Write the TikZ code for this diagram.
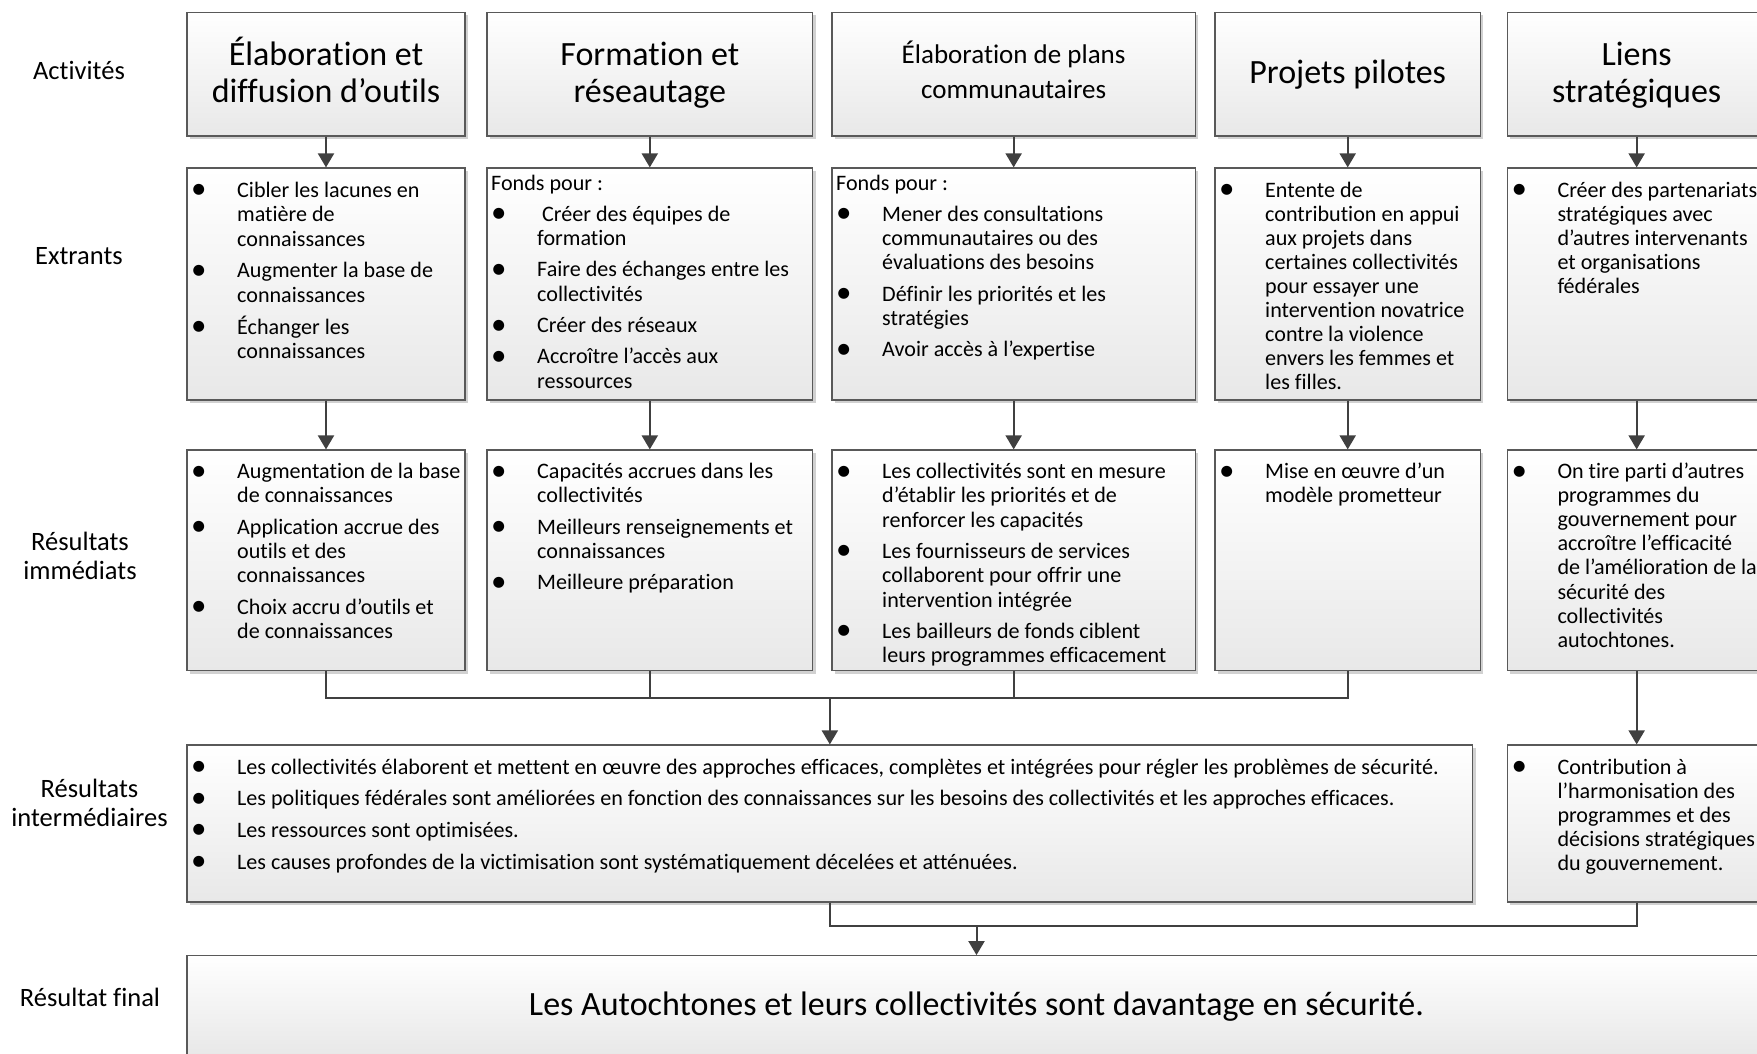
\documentclass[tikz,border=0pt]{standalone}
\usepackage{fontspec}
\usepackage{graphicx}
\setmainfont{Carlito}[Ligatures=NoCommon]
\usetikzlibrary{arrows.meta,shadows}
\newcommand\bulmark{\makebox[50pt][l]{\hspace{11.7pt}\makebox[0pt]{\raisebox{-1.5pt}{\scalebox{1.4}{\textbullet}}}}}
\newcommand\itm[1]{\par\noindent\hangindent=50pt\hangafter=1\bulmark#1\par}
\newcommand\fonds{\par\noindent\hspace*{4pt}Fonds pour :\par}
\newcommand\cnt[2][24.3]{\parbox[t]{1290pt}{\fontsize{22.1}{#1}\selectfont\setlength\parskip{7pt}\lineskiplimit=-50pt #2}}
\newcommand\ctr[4]{\parbox[t]{#1}{\fontsize{#2}{#3}\selectfont\centering #4}}
\tikzset{
  box/.style={rectangle, draw=black!65, line width=1.2pt, top color=white, bottom color=black!9,
    drop shadow={shadow xshift=3pt, shadow yshift=-3pt, fill=black!18, opacity=1}, inner sep=0pt},
  w1/.style={minimum width=278pt}, w2/.style={minimum width=325.6pt}, w3/.style={minimum width=363.3pt},
  w4/.style={minimum width=265.4pt}, w5/.style={minimum width=258.7pt},
  ra/.style={minimum height=123.7pt}, rb/.style={minimum height=232pt},
  rc/.style={minimum height=220.7pt}, rd/.style={minimum height=157pt},
  txt/.style={anchor=base west, inner sep=0pt},
  ttl/.style={anchor=base, inner sep=0pt},
  lbl/.style={anchor=base, inner sep=0pt, font=\fontsize{26.5}{29}\selectfont},
  ln/.style={draw=black!75, line width=2pt},
  arr/.style={ln, -{Triangle[length=14pt,width=16pt]}}
}
\begin{document}
\begin{tikzpicture}[x=1pt, y=-1pt]
\useasboundingbox (0,0) rectangle (1757,1053);
\clip (0,0) rectangle (1757,1053);
% ---------- left labels
\node[lbl] (l1) at (79,79.3) {Activités};
\node[lbl] (l2) at (79,264) {Extrants};
\node[lbl] (l3) at (80,550) {\ctr{160pt}{26.5}{29.3}{Résultats\\immédiats}};
\node[lbl] (l4) at (89.5,797.3) {\ctr{175pt}{26.5}{28.7}{Résultats\\intermédiaires}};
\node[lbl] (l5) at (90,1006.7) {Résultat final};
% ---------- row A
\node[box,w1,ra] (a1) at (326,74.15) {};
\node[box,w2,ra] (a2) at (649.8,74.15) {};
\node[box,w3,ra] (a3) at (1013.65,74.15) {};
\node[box,w4,ra] (a4) at (1347.7,74.15) {};
\node[box,w5,ra] (a5) at (1636.65,74.15) {};
\node[ttl] (ta1) at (326,65.5) {\ctr{270pt}{34}{36.5}{Élaboration et\\diffusion d’outils}};
\node[ttl] (ta2) at (649.8,65.5) {\ctr{300pt}{34}{36.5}{Formation et\\réseautage}};
\node[ttl] (ta3) at (1013.65,63.5) {\ctr{340pt}{27}{34.5}{Élaboration de plans\\communautaires}};
\node[ttl] (ta4) at (1347.7,83) {\ctr{260pt}{34}{36}{Projets pilotes}};
\node[ttl] (ta5) at (1636.65,65.5) {\ctr{250pt}{34}{36.5}{Liens\\stratégiques}};
% ---------- row B
\node[box,w1,rb] (b1) at (326,284) {};
\node[box,w2,rb] (b2) at (649.8,284) {};
\node[box,w3,rb] (b3) at (1013.65,284) {};
\node[box,w4,rb] (b4) at (1347.7,284) {};
\node[box,w5,rb] (b5) at (1636.65,284) {};
\node[txt] (tb1) at (187,197) {\cnt[24.6]{\itm{Cibler les lacunes en\\matière de\\connaissances}\itm{Augmenter la base de\\connaissances}\itm{Échanger les\\connaissances}}};
\node[txt] (tb2) at (487,190) {\cnt{\fonds\itm{\ Créer des équipes de\\formation}\itm{Faire des échanges entre les\\collectivités}\itm{Créer des réseaux}\itm{Accroître l’accès aux\\ressources}}};
\node[txt] (tb3) at (832,190) {\cnt{\fonds\itm{Mener des consultations\\communautaires ou des\\évaluations des besoins}\itm{Définir les priorités et les\\stratégies}\itm{Avoir accès à l’expertise}}};
\node[txt] (tb4) at (1215,197) {\cnt[24.1]{\itm{Entente de\\contribution en appui\\aux projets dans\\certaines collectivités\\pour essayer une\\intervention novatrice\\contre la violence\\envers les femmes et\\les filles.}}};
\node[txt] (tb5) at (1507.3,197) {\cnt[24.1]{\itm{Créer des partenariats\\stratégiques avec\\d’autres intervenants\\et organisations\\fédérales}}};
% ---------- row C
\node[box,w1,rc] (c1) at (326,560.35) {};
\node[box,w2,rc] (c2) at (649.8,560.35) {};
\node[box,w3,rc] (c3) at (1013.65,560.35) {};
\node[box,w4,rc] (c4) at (1347.7,560.35) {};
\node[box,w5,rc] (c5) at (1636.65,560.35) {};
\node[txt] (tc1) at (187,478.5) {\cnt{\itm{Augmentation de la base\\de connaissances}\itm{Application accrue des\\outils et des\\connaissances}\itm{Choix accru d’outils et\\de connaissances}}};
\node[txt] (tc2) at (487,478.5) {\cnt{\itm{Capacités accrues dans les\\collectivités}\itm{Meilleurs renseignements et\\connaissances}\itm{Meilleure préparation}}};
\node[txt] (tc3) at (832,478.5) {\cnt{\itm{Les collectivités sont en mesure\\d’établir les priorités et de\\renforcer les capacités}\itm{Les fournisseurs de services\\collaborent pour offrir une\\intervention intégrée}\itm{Les bailleurs de fonds ciblent\\leurs programmes efficacement}}};
\node[txt] (tc4) at (1215,478.5) {\cnt{\itm{Mise en œuvre d’un\\modèle prometteur}}};
\node[txt] (tc5) at (1507.3,478.5) {\cnt[24.1]{\itm{On tire parti d’autres\\programmes du\\gouvernement pour\\accroître l’efficacité\\de l’amélioration de la\\sécurité des\\collectivités\\autochtones.}}};
% ---------- row D
\node[box,rd,minimum width=1285.7pt] (d1) at (829.85,823.5) {};
\node[box,w5,rd] (d2) at (1636.65,823.5) {};
\node[txt] (td1) at (187,774) {\cnt{\setlength\parskip{7.4pt}\itm{Les collectivités élaborent et mettent en œuvre des approches efficaces, complètes et intégrées pour régler les problèmes de sécurité.}\itm{Les politiques fédérales sont améliorées en fonction des connaissances sur les besoins des collectivités et les approches efficaces.}\itm{Les ressources sont optimisées.}\itm{Les causes profondes de la victimisation sont systématiquement décelées et atténuées.}}};
\node[txt] (td2) at (1507.3,774) {\cnt[24.1]{\itm{Contribution à\\l’harmonisation des\\programmes et des\\décisions stratégiques\\du gouvernement.}}};
% ---------- row E
\node[box,minimum width=1579pt,minimum height=98.6pt] (e) at (976.5,1005) {};
\node[ttl] (te) at (976.5,1015) {\fontsize{34}{36}\selectfont Les Autochtones et leurs collectivités sont davantage en sécurité.};
% ---------- connectors
\foreach \i in {1,...,5} {
  \draw[arr] (a\i.south) -- (b\i.north);
  \draw[arr] (b\i.south) -- (c\i.north);
}
\coordinate (jm) at (829.85,698);
\draw[ln] (c1.south) |- (jm);
\draw[ln] (c4.south) |- (jm);
\draw[ln] (c2.south) -- (c2.south |- jm);
\draw[ln] (c3.south) -- (c3.south |- jm);
\draw[arr] (jm) -- (d1.north);
\draw[arr] (c5.south) -- (d2.north);
\coordinate (jf) at (976.5,926);
\draw[ln] (d1.south) |- (jf);
\draw[ln] (d2.south) |- (jf);
\draw[arr] (jf) -- (e.north);
\end{tikzpicture}
\end{document}
